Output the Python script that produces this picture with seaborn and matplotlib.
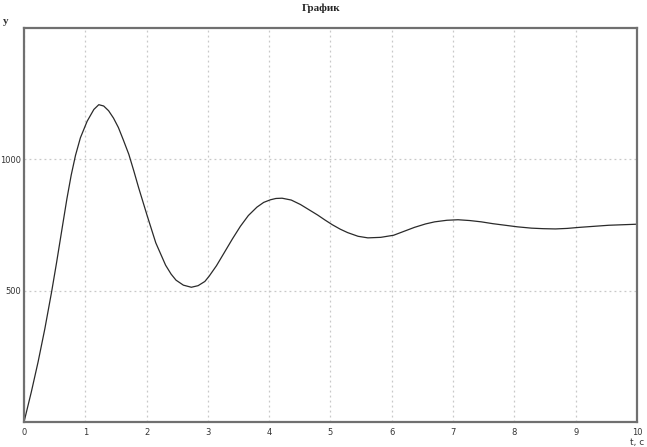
import numpy as np
import pandas as pd
import matplotlib
matplotlib.use("Agg")
import matplotlib.pyplot as plt
import seaborn as sns

# values
t_vals = [0.0, 0.12, 0.23, 0.34, 0.45, 0.53, 0.62, 0.70, 0.77, 0.84, 0.92, 1.03,
          1.14, 1.22, 1.30, 1.38, 1.46, 1.54, 1.62, 1.71, 1.79, 1.87, 2.01,
          2.15, 2.31, 2.40, 2.48, 2.60, 2.73, 2.84, 2.95, 3.02, 3.14, 3.26,
          3.40, 3.53, 3.66, 3.80, 3.91, 4.02, 4.11, 4.21, 4.36, 4.51, 4.65,
          4.79, 4.91, 5.03, 5.16, 5.28, 5.45, 5.61, 5.82, 6.03, 6.20, 6.37,
          6.55, 6.70, 6.90, 7.08, 7.27, 7.46, 7.65, 7.85, 8.05, 8.28, 8.47,
          8.67, 8.86, 9.06, 9.30, 9.54, 9.77, 10.0]
y_vals = [0, 115, 229, 355, 495, 605, 735, 850, 940, 1015, 1082, 1145,
          1190, 1208, 1203, 1185, 1157, 1121, 1074, 1019, 957, 892, 785,
          682, 597, 563, 540, 521, 513, 519, 535, 555, 595, 642,
          697, 745, 786, 818, 836, 846, 851, 852, 845, 828, 808,
          788, 769, 751, 734, 721, 707, 701, 703, 711, 726, 741,
          754, 762, 768, 770, 767, 762, 755, 749, 743, 738, 736,
          735, 737, 741, 745, 749, 751, 753]

x_ticks = [0, 1, 2, 3, 4, 5, 6, 7, 8, 9, 10]
y_ticks = [500, 1000]

df = pd.DataFrame({"t": t_vals, "y": y_vals})

sns.set_style("white")
plt.rcParams["font.family"] = ["DejaVu Sans"]

fig = plt.figure(figsize=(6.47, 4.47), dpi=100)
ax = fig.add_axes([0.0371, 0.0559, 0.9474, 0.8815])

sns.lineplot(data=df, x="t", y="y", ax=ax, color="#2a2a2a", linewidth=0.9,
             sort=False, estimator=None)

ax.set_xlim(0, 10)
ax.set_ylim(0, 1500)
ax.set_xticks(x_ticks)
ax.set_yticks(y_ticks)
ax.set_xlabel("")
ax.set_ylabel("")
ax.grid(True, color="#c8c8c8", linestyle=(0, (1.5, 2.5)), linewidth=0.9)
ax.tick_params(length=0, labelsize=6, colors="#333333", pad=2)
ax.tick_params(axis="x", pad=4)

for s in ax.spines.values():
    s.set_color("#707070")
    s.set_linewidth(1.6)

fig.text(0.497, 0.981, "График", ha="center", va="center", fontsize=8,
         fontweight="bold", family="Liberation Serif")
fig.text(0.009, 0.953, "y", ha="center", va="center", fontsize=8,
         fontweight="bold", family="Liberation Serif", color="#333333")
fig.text(0.984, 0.011, "t, c", ha="center", va="center", fontsize=6.5,
         color="#333333")

fig.savefig("out.png", dpi=100)
